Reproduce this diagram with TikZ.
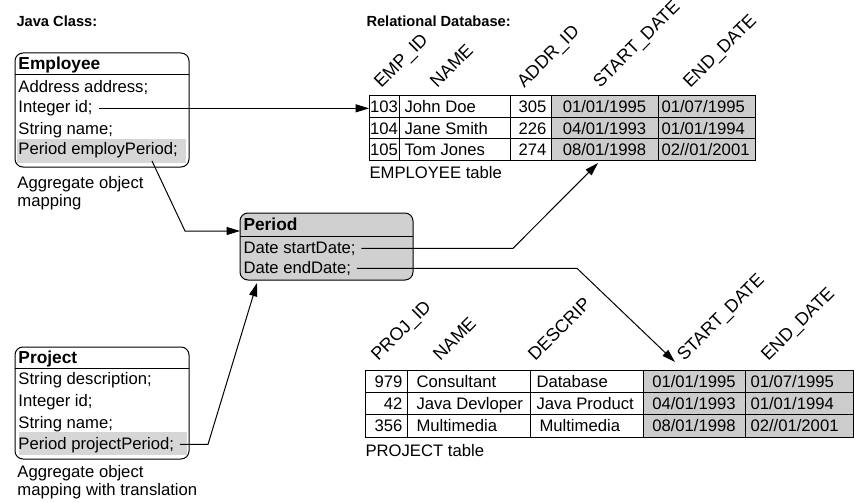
\documentclass[tikz,border=0pt]{standalone}
\usepackage{fontspec}
\setmainfont{Liberation Sans}
\usetikzlibrary{arrows.meta}
\definecolor{grisbd}{RGB}{204,204,204}
\definecolor{grisper}{RGB}{208,208,208}
\definecolor{grisatt}{RGB}{214,214,214}

\begin{document}
\begin{tikzpicture}[x=0.75pt, y=-0.75pt, line width=0.75pt,
    every node/.style={inner sep=0pt, font=\fontsize{12.5}{15}\selectfont},
    champ/.style={anchor=base west, text height=9pt, text depth=2pt},
    titre/.style={anchor=base west, font=\fontsize{11}{13}\selectfont\bfseries},
    classe/.style={anchor=base west, font=\fontsize{13}{15}\selectfont\bfseries},
    entete/.style={anchor=base west, rotate=45, font=\fontsize{13.5}{15}\selectfont},
    fleche/.style={-{Triangle[length=10pt, width=6pt]}}]
    \useasboundingbox (0,0) rectangle (854,503);

    % Titres
    \node[titre] (tjava) at (16,27) {Java Class:};
    \node[titre] (tbase) at (366,27) {Relational Database:};

    % Classe Employee
    \fill[grisatt] (17,139) rectangle (186,163);
    \draw[rounded corners=6pt] (15,53) rectangle (189,167);
    \draw (15,75) -- (189,75);
    \node[classe] (nemp) at (18,70) {Employee};
    \node[champ] (fadr) at (18,93) {Address address;};
    \node[champ] (fid) at (18,113) {Integer id;};
    \node[champ] (fnom) at (18,134) {String name;};
    \node[champ] (femp) at (18,155) {Period employPeriod;};
    \node[anchor=base west] (cemp1) at (17,189) {Aggregate object};
    \node[anchor=base west] (cemp2) at (17,206) {mapping};

    % Classe Project
    \fill[grisatt] (19,432) rectangle (187,455);
    \draw[rounded corners=6pt] (15,347) rectangle (189,459);
    \draw (15,368) -- (189,368);
    \node[classe] (nproj) at (18,363) {Project};
    \node[champ] (fdesc) at (18,384) {String description;};
    \node[champ] (fpid) at (18,406) {Integer id;};
    \node[champ] (fpnom) at (18,428) {String name;};
    \node[champ] (fproj) at (18,449) {Period projectPeriod;};
    \node[anchor=base west] (cproj1) at (17,477) {Aggregate object};
    \node[anchor=base west] (cproj2) at (17,495) {mapping with translation};

    % Classe Period (agregat)
    \filldraw[fill=grisper, rounded corners=6pt] (240,213) rectangle (413,280);
    \draw (240,236) -- (413,236);
    \node[classe] (nper) at (243,230) {Period};
    \node[champ] (fdeb) at (243,253) {Date startDate;};
    \node[champ] (ffin) at (243,273) {Date endDate;};

    % Table EMPLOYEE
    \fill[grisbd] (551,96) rectangle (755,160.5);
    \draw (369,96) rectangle (755,160.5);
    \draw (369,117.5) -- (755,117.5) (369,139) -- (755,139);
    \draw (399,96) -- (399,160.5) (510,96) -- (510,160.5)
          (551,96) -- (551,160.5) (658,96) -- (658,160.5);
    \node[entete] (h1) at (381,89) {EMP\_ID};
    \node[entete] (h2) at (437,89) {NAME};
    \node[entete] (h3) at (524,89) {ADDR\_ID};
    \node[entete] (h4) at (600,89) {START\_DATE};
    \node[entete] (h5) at (690,89) {END\_DATE};
    \node[anchor=base] (e11) at (384,113) {103};
    \node[anchor=base] (e21) at (384,134) {104};
    \node[anchor=base] (e31) at (384,156) {105};
    \node[anchor=base west] (e12) at (404,113) {John Doe};
    \node[anchor=base west] (e22) at (404,134) {Jane Smith};
    \node[anchor=base west] (e32) at (404,156) {Tom Jones};
    \node[anchor=base east] (e13) at (547,113) {305};
    \node[anchor=base east] (e23) at (547,134) {226};
    \node[anchor=base east] (e33) at (547,156) {274};
    \node[anchor=base] (e14) at (604.5,113) {01/01/1995};
    \node[anchor=base] (e24) at (604.5,134) {04/01/1993};
    \node[anchor=base] (e34) at (604.5,156) {08/01/1998};
    \node[anchor=base west] (e15) at (661,113) {01/07/1995};
    \node[anchor=base west] (e25) at (661,134) {01/01/1994};
    \node[anchor=base west] (e35) at (661,156) {02//01/2001};
    \node[anchor=base west] (lemp) at (369,178) {EMPLOYEE table};

    % Table PROJECT
    \fill[grisbd] (643,370) rectangle (853,437);
    \draw (365,370) rectangle (853,437);
    \draw (365,392) -- (853,392) (365,414.5) -- (853,414.5);
    \draw (407,370) -- (407,437) (530,370) -- (530,437)
          (643,370) -- (643,437) (745,370) -- (745,437);
    \node[entete] (k1) at (378,362) {PROJ\_ID};
    \node[entete] (k2) at (440,362) {NAME};
    \node[entete] (k3) at (535,362) {DESCRIP};
    \node[entete] (k4) at (684,362) {START\_DATE};
    \node[entete] (k5) at (768,362) {END\_DATE};
    \node[anchor=base east] (p11) at (403,387) {979};
    \node[anchor=base east] (p21) at (403,409) {42};
    \node[anchor=base east] (p31) at (403,431) {356};
    \node[anchor=base west] (p12) at (416,387) {Consultant};
    \node[anchor=base west] (p22) at (416,409) {Java Devloper};
    \node[anchor=base west] (p32) at (416,431) {Multimedia};
    \node[anchor=base west] (p13) at (536,387) {Database};
    \node[anchor=base west] (p23) at (536,409) {Java Product};
    \node[anchor=base west] (p33) at (539,431) {Multimedia};
    \node[anchor=base] (p14) at (694,387) {01/01/1995};
    \node[anchor=base] (p24) at (694,409) {04/01/1993};
    \node[anchor=base] (p34) at (694,431) {08/01/1998};
    \node[anchor=base west] (p15) at (750,387) {01/07/1995};
    \node[anchor=base west] (p25) at (750,409) {01/01/1994};
    \node[anchor=base west] (p35) at (750,431) {02//01/2001};
    \node[anchor=base west] (lproj) at (365,456) {PROJECT table};

    % Points d'arrivee et coudes des liaisons
    \coordinate (emptab) at (369,96);
    \coordinate (perW) at (240,231);
    \coordinate (perS) at (257,283);
    \coordinate (empdeb) at (598,163);
    \coordinate (projdeb) at (675,362);
    \coordinate (dep1) at (152,161);
    \coordinate (coude1) at (185,231);
    \coordinate (coude3) at (513,0);
    \coordinate (coude4) at (577,0);
    \coordinate (coude5) at (208,0);

    % Liaisons
    \draw[fleche] ([xshift=4.5pt]fid.east) -- (fid.east -| emptab);
    \draw[fleche] (dep1) -- (coude1) -- (perW);
    \draw[fleche] ([xshift=4pt]fdeb.east) -- (fdeb.east -| coude3) -- (empdeb);
    \draw[fleche] ([xshift=4pt]ffin.east) -- (ffin.east -| coude4) -- (projdeb);
    \draw[fleche] ([xshift=4pt]fproj.east) -- (fproj.east -| coude5) -- (perS);
\end{tikzpicture}
\end{document}
